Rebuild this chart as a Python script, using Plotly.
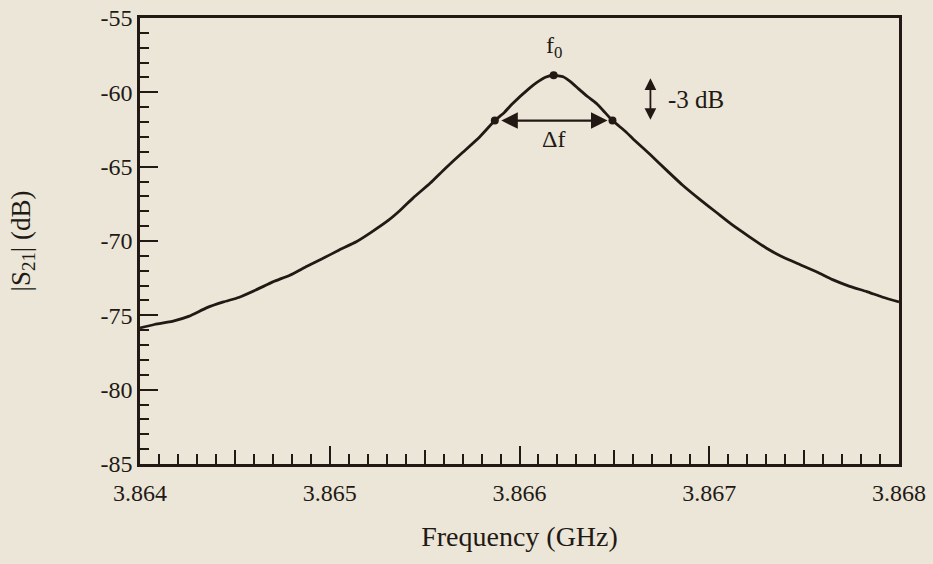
import plotly.graph_objects as go

# Data
freq_ghz = [3.86400, 3.86408, 3.86417, 3.86426, 3.86435, 3.86444, 3.86452, 3.86461,
            3.86470, 3.86479, 3.86488, 3.86496, 3.86505, 3.86514, 3.86522, 3.86531,
            3.86537, 3.86544, 3.86553, 3.86561, 3.86570, 3.86579, 3.86587, 3.86592,
            3.86596, 3.86605, 3.86609, 3.86614, 3.86618, 3.86623, 3.86627, 3.86631,
            3.86636, 3.86641, 3.86645, 3.86649, 3.86656,
            3.86660, 3.86669, 3.86678, 3.86686, 3.86695, 3.86704, 3.86712, 3.86721,
            3.86730, 3.86739, 3.86748, 3.86757, 3.86765, 3.86774, 3.86783, 3.86792,
            3.86800]
s21_db = [-75.85, -75.6, -75.4, -75.05, -74.5, -74.1, -73.8, -73.3,
          -72.75, -72.3, -71.7, -71.2, -70.6, -70.05, -69.4, -68.6,
          -67.95, -67.1, -66.1, -65.1, -64.05, -63.0, -61.9, -61.35,
          -60.8, -59.75, -59.35, -58.97, -58.85, -58.95, -59.3, -59.75,
          -60.3, -60.8, -61.35, -61.9, -62.65,
          -63.15, -64.2, -65.3, -66.25, -67.2, -68.1, -68.9, -69.7,
          -70.47, -71.1, -71.6, -72.1, -72.6, -73.05, -73.4, -73.8,
          -74.1]

f0 = 3.86618
peak_db = -58.85
f_lo = 3.86587
f_hi = 3.86649
half_db = -61.9
arrow_x = 3.86669

x_range = [3.864, 3.868]
y_range = [-85, -55]
x_ticks = [3.864, 3.865, 3.866, 3.867, 3.868]
x_ticklabels = ["3.864", "3.865", "3.866", "3.867", "3.868"]
y_ticks = [-85, -80, -75, -70, -65, -60, -55]
y_ticklabels = ["-85", "-80", "-75", "-70", "-65", "-60", "-55"]

ink = "#221915"
bg = "#ebe6d7"
font_family = "Liberation Serif"

fig = go.Figure()
fig.add_trace(go.Scatter(x=freq_ghz, y=s21_db, mode="lines",
                         line=dict(color=ink, width=2.8, shape="spline", smoothing=0.4),
                         hoverinfo="skip", showlegend=False))
fig.add_trace(go.Scatter(x=[f_lo, f0, f_hi], y=[half_db, peak_db, half_db], mode="markers",
                         marker=dict(color=ink, size=8), hoverinfo="skip", showlegend=False))
# empty trace to activate the overlay axis used for half-major ticks
fig.add_trace(go.Scatter(x=[], y=[], xaxis="x2", showlegend=False))

axis_common = dict(showgrid=False, zeroline=False, linecolor=ink, linewidth=2.5,
                   ticks="inside", tickcolor=ink, tickwidth=2.2, mirror=True,
                   automargin=False,
                   tickfont=dict(family=font_family, size=24, color=ink))

fig.update_layout(
    width=933, height=564,
    paper_bgcolor=bg, plot_bgcolor=bg,
    margin=dict(l=140, r=34, t=18, b=100),
    xaxis=dict(range=x_range, tickvals=x_ticks, ticktext=x_ticklabels, ticklen=18,
               ticklabelstandoff=5,
               minor=dict(dtick=0.0001, ticklen=10, ticks="inside", tickcolor=ink, tickwidth=2.2),
               title=dict(text="Frequency (GHz)", standoff=22,
                          font=dict(family=font_family, size=28, color=ink)),
               **axis_common),
    xaxis2=dict(range=x_range, overlaying="x", anchor="y", side="bottom",
                tick0=3.864, dtick=0.0005, ticks="inside", ticklen=14, tickwidth=2.2,
                tickcolor=ink, showticklabels=False, showline=False, showgrid=False,
                zeroline=False),
    yaxis=dict(range=y_range, tickvals=y_ticks, ticktext=y_ticklabels, ticklen=18,
               ticklabelstandoff=0,
               minor=dict(dtick=1, ticklen=9, ticks="inside", tickcolor=ink, tickwidth=2.2),
               title=dict(text="|S<sub>21</sub>| (dB)", standoff=63,
                          font=dict(family=font_family, size=27, color=ink)),
               **axis_common),
    font=dict(family=font_family, color=ink),
)

# f0 label
fig.add_annotation(x=f0, y=peak_db, text="f<sub>0</sub>", showarrow=False,
                   yshift=28, font=dict(family=font_family, size=24, color=ink))
# Delta f label
fig.add_annotation(x=(f_lo + f_hi) / 2, y=half_db, text="\u0394f", showarrow=False,
                   yshift=-18, font=dict(family=font_family, size=24, color=ink))
# horizontal double arrow
fig.add_annotation(x=f_hi, y=half_db, ax=f_lo, ay=half_db, axref="x", ayref="y",
                   xref="x", yref="y", text="", showarrow=True, arrowhead=2,
                   arrowside="end+start", arrowsize=1.5, arrowwidth=2.2,
                   arrowcolor=ink, standoff=5, startstandoff=5)
# vertical -3 dB double arrow
fig.add_annotation(x=arrow_x, y=peak_db - 3.0, ax=arrow_x, ay=peak_db - 0.1,
                   axref="x", ayref="y", xref="x", yref="y", text="", showarrow=True,
                   arrowhead=2, arrowside="end+start", arrowsize=1.3, arrowwidth=1.8,
                   arrowcolor=ink)
fig.add_annotation(x=arrow_x, y=peak_db - 1.6, text="-3 dB", showarrow=False,
                   xanchor="left", xshift=16, font=dict(family=font_family, size=25, color=ink))

fig.write_html("out.html", config={"displayModeBar": False},
               post_script="document.body.style.margin='0';document.body.style.background='%s';" % bg)
